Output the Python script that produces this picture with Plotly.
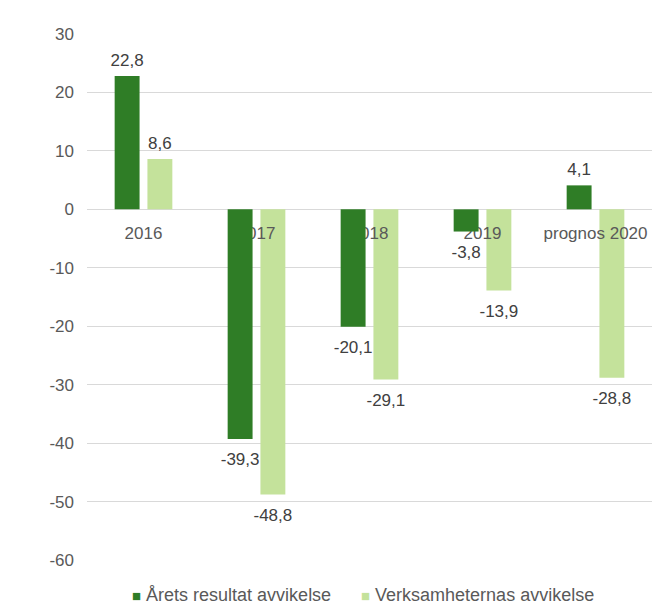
import plotly.graph_objects as go

categories = ["2016", "2017", "2018", "2019", "prognos 2020"]
arets_resultat = [22.8, -39.3, -20.1, -3.8, 4.1]
verksamheterna = [8.6, -48.8, -29.1, -13.9, -28.8]
series_names = ["Årets resultat avvikelse", "Verksamheternas avvikelse"]
y_ticks = [30, 20, 10, 0, -10, -20, -30, -40, -50, -60]


def fmt(v):
    return f"{v:.1f}".replace(".", ",")


dark = "#2f7d26"
light = "#c4e29b"
clear = "rgba(0,0,0,0)"
txt = "#595959"
font_family = "Liberation Sans, Arial, sans-serif"
fs = 17

series = [(arets_resultat, series_names[0], dark, "a"),
          (verksamheterna, series_names[1], light, "b")]

fig = go.Figure()
# Layer 1 (x, y): light bars, with category labels drawn above them.
# Layer 2 (x2, y2): dark bars drawn above the category labels, plus value labels.
# Each layer holds both series (one transparent) so the grouping is identical.
for xa, ya, visible_grp in [("x", "y", "b"), ("x2", "y2", "a")]:
    for vals, name, col, grp in series:
        fig.add_trace(go.Bar(
            x=categories, y=vals, name=name, offsetgroup=grp,
            xaxis=xa, yaxis=ya,
            marker=dict(color=col if grp == visible_grp else clear, line=dict(width=0)),
            hoverinfo="skip", showlegend=False,
        ))

for vals, name, col, grp in series:
    fig.add_trace(go.Scatter(
        x=categories, y=vals, mode="markers+text", offsetgroup=grp,
        xaxis="x2", yaxis="y2",
        marker=dict(size=[8 if v >= 0 else 20 for v in vals], opacity=0, color=col),
        text=[fmt(v) for v in vals],
        textposition=["top center" if v >= 0 else "bottom center" for v in vals],
        textfont=dict(size=fs, color="#404040", family=font_family),
        cliponaxis=False, hoverinfo="skip", showlegend=False,
    ))

# legend drawn as text items in the bottom margin
legend_x = [0.0761, 0.481]
for (vals, name, col, grp), lx in zip(series, legend_x):
    fig.add_annotation(
        x=lx, y=-0.066, xref="paper", yref="paper", xanchor="left", yanchor="middle",
        showarrow=False, align="left", height=20, valign="middle",
        text=f"<span style='color:{col};font-size:15px'>■</span> {name}",
        font=dict(size=18, color=txt, family=font_family),
    )

fig.update_layout(
    width=652, height=605,
    margin=dict(l=87, r=0, t=34, b=45),
    paper_bgcolor="white", plot_bgcolor=clear,
    barmode="group", bargap=0.42, bargroupgap=0.24,
    scattermode="group", scattergap=0.42,
    font=dict(family=font_family, size=fs, color=txt),
    showlegend=False,
    xaxis=dict(
        type="category", anchor="free", position=60 / 90, layer="above traces",
        showgrid=False, showline=False, zeroline=False, ticks="",
        ticklabelstandoff=12, automargin=False, domain=[0, 1],
        tickfont=dict(size=fs, color=txt),
    ),
    yaxis=dict(
        range=[-60, 30], tickvals=y_ticks, ticktext=[str(t) for t in y_ticks],
        showgrid=True, gridcolor="#d9d9d9",
        gridwidth=1, zeroline=True, zerolinecolor="#d9d9d9", zerolinewidth=1,
        showline=False, ticks="", ticklabelstandoff=12, automargin=False,
        tickfont=dict(size=fs, color=txt), domain=[0, 1], anchor="x",
    ),
    xaxis2=dict(type="category", matches="x", anchor="y2", domain=[0, 1],
                visible=False, showgrid=False, zeroline=False),
    yaxis2=dict(range=[-60, 30], matches="y", anchor="x2", domain=[0, 1],
                visible=False, showgrid=False, zeroline=False),
)

fig.write_html("out.html", config={"displayModeBar": False},
               post_script="document.body.style.margin='0px';")
